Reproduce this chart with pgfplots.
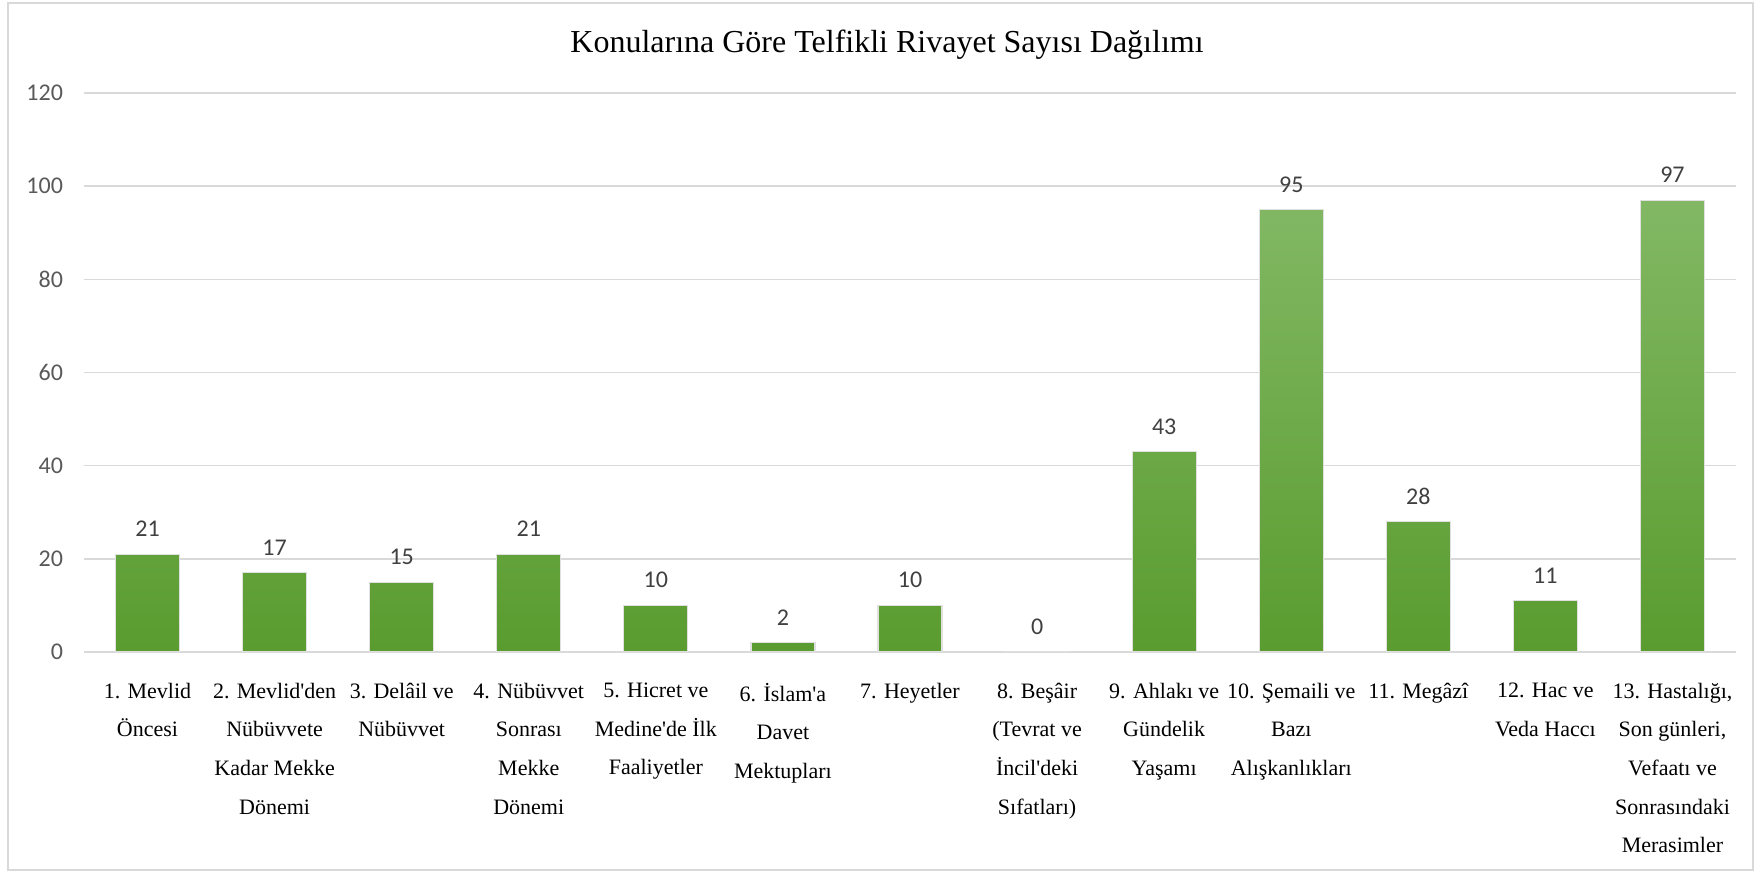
\documentclass[border=0pt]{standalone}
\usepackage{fontspec}
\setmainfont{Liberation Serif}
\newfontfamily\carlito{Carlito}
\usepackage{pgfplots}
\pgfplotsset{compat=1.18}
\definecolor{gridgray}{HTML}{D9D9D9}
\definecolor{ticktext}{HTML}{595959}
\definecolor{labeltext}{HTML}{404040}
\definecolor{bartop}{HTML}{82B864}
\definecolor{barbot}{HTML}{5A9C2F}

\begin{document}
\begin{tikzpicture}
\useasboundingbox (0,0) rectangle (880pt,436pt);
\draw[gridgray, line width=1pt] (4pt,1pt) rectangle (876.5pt,434.5pt);
\node[font=\fontsize{16}{19}\selectfont] at (443.5pt,413.5pt)
  {Konularına Göre Telfikli Rivayet Sayısı Dağılımı};
\begin{axis}[
    at={(42pt,110pt)}, anchor=south west,
    scale only axis,
    width=826pt, height=279.5pt,
    xmin=-0.5, xmax=12.5,
    ymin=0, ymax=120,
    ytick={0,20,...,120},
    xtick=data,
    xticklabels={
      {1. Mevlid\\Öncesi},
      {2. Mevlid\textquotesingle den\\Nübüvvete\\Kadar Mekke\\Dönemi},
      {3. Delâil ve\\Nübüvvet},
      {4. Nübüvvet\\Sonrası\\Mekke\\Dönemi},
      {5. Hicret ve\\Medine\textquotesingle de İlk\\Faaliyetler},
      {6. İslam\textquotesingle a\\Davet\\Mektupları},
      {7. Heyetler},
      {8. Beşâir\\(Tevrat ve\\İncil\textquotesingle deki\\Sıfatları)},
      {9. Ahlakı ve\\Gündelik\\Yaşamı},
      {10. Şemaili ve\\Bazı\\Alışkanlıkları},
      {11. Megâzî},
      {12. Hac ve\\Veda Haccı},
      {13. Hastalığı,\\Son günleri,\\Vefaatı ve\\Sonrasındaki\\Merasimler}
    },
    xticklabel style={align=center, anchor=north, yshift=-12pt,
      font=\fontsize{11}{19.3}\selectfont},
    yticklabel style={anchor=east, xshift=-7pt, text=ticktext,
      font=\carlito\fontsize{12}{14}\selectfont},
    /pgf/number format/assume math mode=true,
    major tick length=0pt,
    axis line style={draw=none},
    ymajorgrids,
    grid style={gridgray, line width=0.8pt},
    nodes near coords,
    nodes near coords style={text=labeltext, yshift=5pt,
      font=\carlito\fontsize{12}{14}\selectfont},
]
\addplot[ybar, bar width=32pt, top color=bartop, bottom color=barbot,
  draw=black!12, line width=0.6pt]
  coordinates {(0,21) (1,17) (2,15) (3,21) (4,10) (5,2) (6,10)
               (7,0) (8,43) (9,95) (10,28) (11,11) (12,97)};
\end{axis}
\end{tikzpicture}
\end{document}
